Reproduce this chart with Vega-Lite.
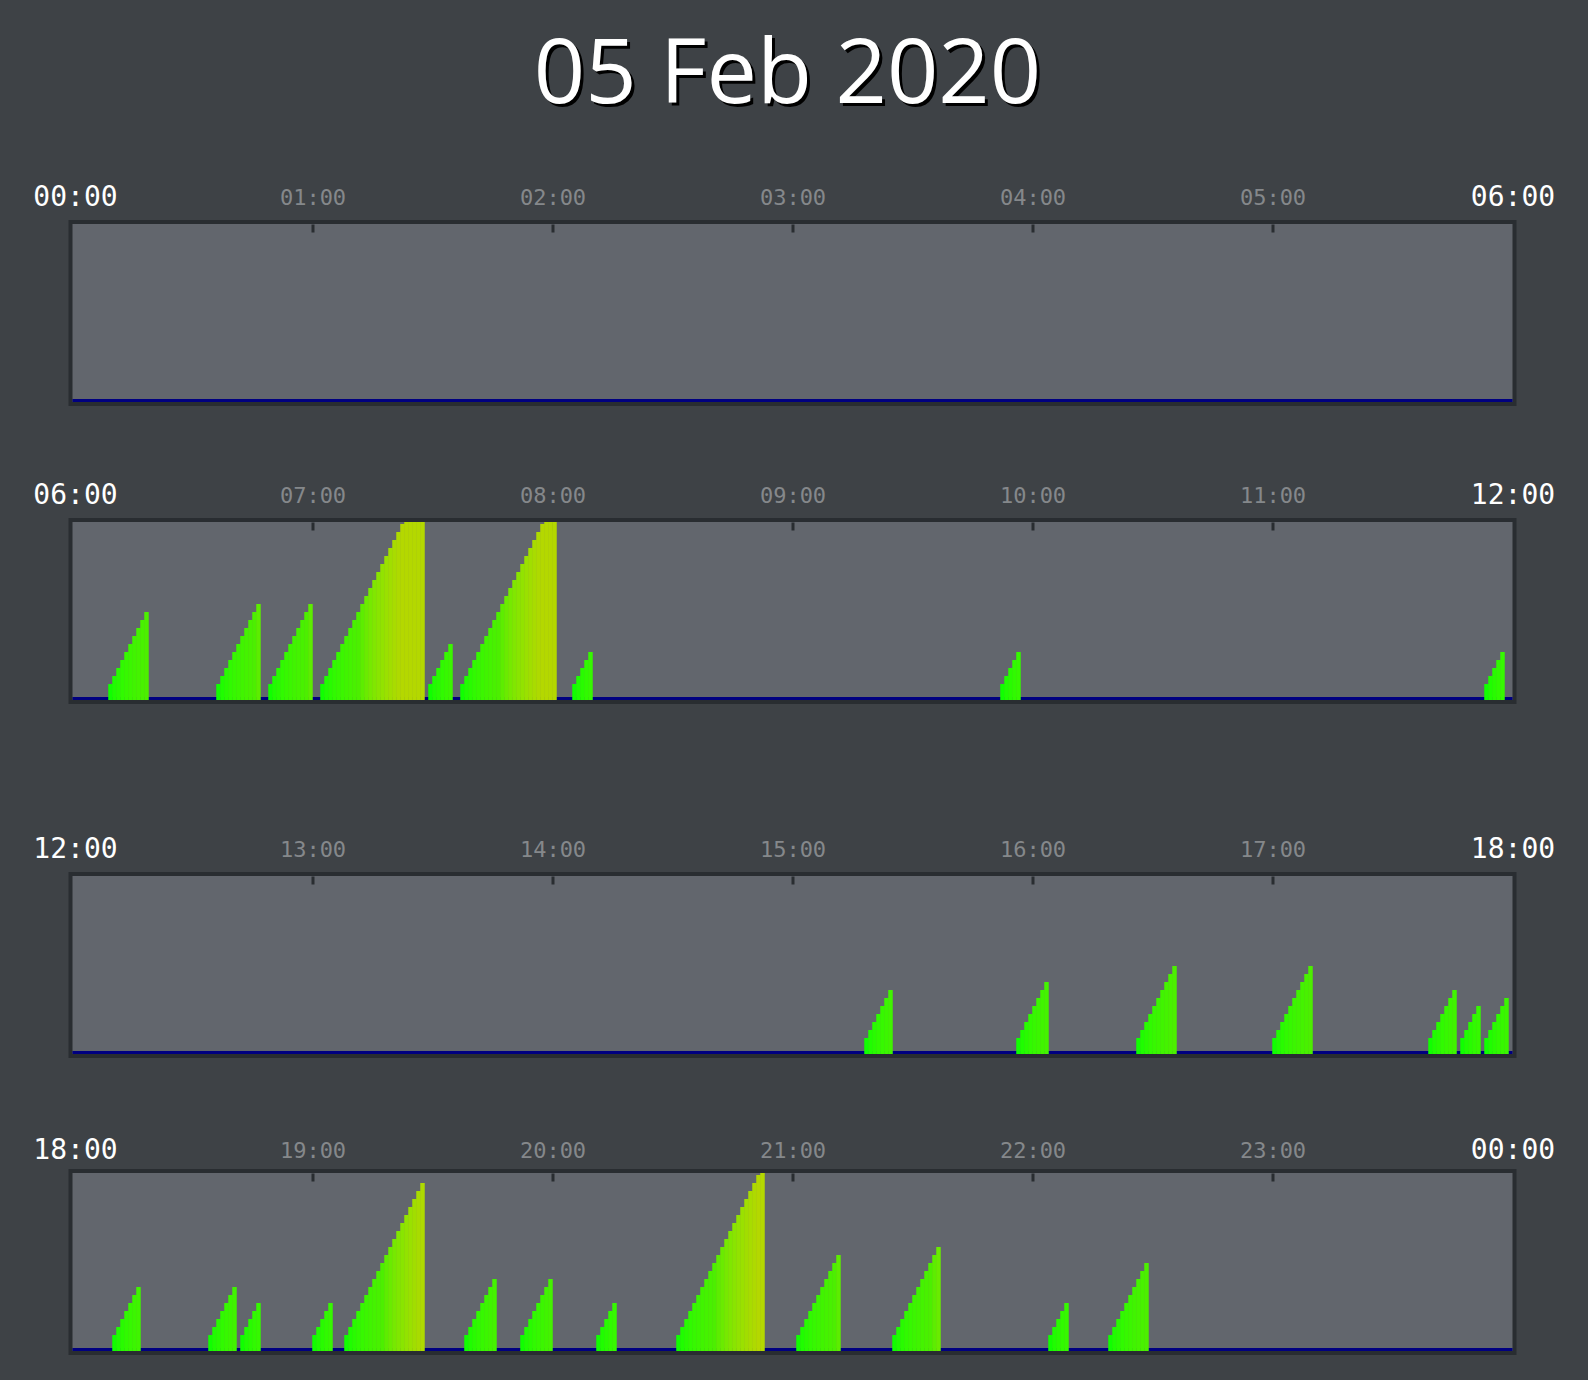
{
  "$schema": "https://vega.github.io/schema/vega-lite/v6.json",
  "background": "#3e4246",
  "padding": {"left": 30.5, "right": 33.5, "top": 0, "bottom": 27},
  "spacing": 129,
  "config": {
    "view": {"fill": "#62666d", "stroke": "#292d31", "strokeWidth": 4}
  },
  "datasets": {
    "bars": [
      {"t":369,"v":2},{"t":370,"v":3},{"t":371,"v":4},{"t":372,"v":5},{"t":373,"v":6},{"t":374,"v":7},{"t":375,"v":8},{"t":376,"v":9},{"t":377,"v":10},{"t":378,"v":11},
      {"t":396,"v":2},{"t":397,"v":3},{"t":398,"v":4},{"t":399,"v":5},{"t":400,"v":6},{"t":401,"v":7},{"t":402,"v":8},{"t":403,"v":9},{"t":404,"v":10},{"t":405,"v":11},{"t":406,"v":12},
      {"t":409,"v":2},{"t":410,"v":3},{"t":411,"v":4},{"t":412,"v":5},{"t":413,"v":6},{"t":414,"v":7},{"t":415,"v":8},{"t":416,"v":9},{"t":417,"v":10},{"t":418,"v":11},{"t":419,"v":12},
      {"t":422,"v":2},{"t":423,"v":3},{"t":424,"v":4},{"t":425,"v":5},{"t":426,"v":6},{"t":427,"v":7},{"t":428,"v":8},{"t":429,"v":9},{"t":430,"v":10},{"t":431,"v":11},{"t":432,"v":12},{"t":433,"v":13},{"t":434,"v":14},{"t":435,"v":15},{"t":436,"v":16},{"t":437,"v":17},{"t":438,"v":18},{"t":439,"v":19},{"t":440,"v":20},{"t":441,"v":21},{"t":442,"v":22},{"t":443,"v":23},{"t":444,"v":24},{"t":445,"v":25},{"t":446,"v":26},{"t":447,"v":27},
      {"t":449,"v":2},{"t":450,"v":3},{"t":451,"v":4},{"t":452,"v":5},{"t":453,"v":6},{"t":454,"v":7},
      {"t":457,"v":2},{"t":458,"v":3},{"t":459,"v":4},{"t":460,"v":5},{"t":461,"v":6},{"t":462,"v":7},{"t":463,"v":8},{"t":464,"v":9},{"t":465,"v":10},{"t":466,"v":11},{"t":467,"v":12},{"t":468,"v":13},{"t":469,"v":14},{"t":470,"v":15},{"t":471,"v":16},{"t":472,"v":17},{"t":473,"v":18},{"t":474,"v":19},{"t":475,"v":20},{"t":476,"v":21},{"t":477,"v":22},{"t":478,"v":23},{"t":479,"v":24},{"t":480,"v":25},
      {"t":485,"v":2},{"t":486,"v":3},{"t":487,"v":4},{"t":488,"v":5},{"t":489,"v":6},
      {"t":592,"v":2},{"t":593,"v":3},{"t":594,"v":4},{"t":595,"v":5},{"t":596,"v":6},
      {"t":713,"v":2},{"t":714,"v":3},{"t":715,"v":4},{"t":716,"v":5},{"t":717,"v":6},
      {"t":918,"v":2},{"t":919,"v":3},{"t":920,"v":4},{"t":921,"v":5},{"t":922,"v":6},{"t":923,"v":7},{"t":924,"v":8},
      {"t":956,"v":2},{"t":957,"v":3},{"t":958,"v":4},{"t":959,"v":5},{"t":960,"v":6},{"t":961,"v":7},{"t":962,"v":8},{"t":963,"v":9},
      {"t":986,"v":2},{"t":987,"v":3},{"t":988,"v":4},{"t":989,"v":5},{"t":990,"v":6},{"t":991,"v":7},{"t":992,"v":8},{"t":993,"v":9},{"t":994,"v":10},{"t":995,"v":11},
      {"t":1020,"v":2},{"t":1021,"v":3},{"t":1022,"v":4},{"t":1023,"v":5},{"t":1024,"v":6},{"t":1025,"v":7},{"t":1026,"v":8},{"t":1027,"v":9},{"t":1028,"v":10},{"t":1029,"v":11},
      {"t":1059,"v":2},{"t":1060,"v":3},{"t":1061,"v":4},{"t":1062,"v":5},{"t":1063,"v":6},{"t":1064,"v":7},{"t":1065,"v":8},
      {"t":1067,"v":2},{"t":1068,"v":3},{"t":1069,"v":4},{"t":1070,"v":5},{"t":1071,"v":6},
      {"t":1073,"v":2},{"t":1074,"v":3},{"t":1075,"v":4},{"t":1076,"v":5},{"t":1077,"v":6},{"t":1078,"v":7},
      {"t":1090,"v":2},{"t":1091,"v":3},{"t":1092,"v":4},{"t":1093,"v":5},{"t":1094,"v":6},{"t":1095,"v":7},{"t":1096,"v":8},
      {"t":1114,"v":2},{"t":1115,"v":3},{"t":1116,"v":4},{"t":1117,"v":5},{"t":1118,"v":6},{"t":1119,"v":7},{"t":1120,"v":8},
      {"t":1122,"v":2},{"t":1123,"v":3},{"t":1124,"v":4},{"t":1125,"v":5},{"t":1126,"v":6},
      {"t":1140,"v":2},{"t":1141,"v":3},{"t":1142,"v":4},{"t":1143,"v":5},{"t":1144,"v":6},
      {"t":1148,"v":2},{"t":1149,"v":3},{"t":1150,"v":4},{"t":1151,"v":5},{"t":1152,"v":6},{"t":1153,"v":7},{"t":1154,"v":8},{"t":1155,"v":9},{"t":1156,"v":10},{"t":1157,"v":11},{"t":1158,"v":12},{"t":1159,"v":13},{"t":1160,"v":14},{"t":1161,"v":15},{"t":1162,"v":16},{"t":1163,"v":17},{"t":1164,"v":18},{"t":1165,"v":19},{"t":1166,"v":20},{"t":1167,"v":21},
      {"t":1178,"v":2},{"t":1179,"v":3},{"t":1180,"v":4},{"t":1181,"v":5},{"t":1182,"v":6},{"t":1183,"v":7},{"t":1184,"v":8},{"t":1185,"v":9},
      {"t":1192,"v":2},{"t":1193,"v":3},{"t":1194,"v":4},{"t":1195,"v":5},{"t":1196,"v":6},{"t":1197,"v":7},{"t":1198,"v":8},{"t":1199,"v":9},
      {"t":1211,"v":2},{"t":1212,"v":3},{"t":1213,"v":4},{"t":1214,"v":5},{"t":1215,"v":6},
      {"t":1231,"v":2},{"t":1232,"v":3},{"t":1233,"v":4},{"t":1234,"v":5},{"t":1235,"v":6},{"t":1236,"v":7},{"t":1237,"v":8},{"t":1238,"v":9},{"t":1239,"v":10},{"t":1240,"v":11},{"t":1241,"v":12},{"t":1242,"v":13},{"t":1243,"v":14},{"t":1244,"v":15},{"t":1245,"v":16},{"t":1246,"v":17},{"t":1247,"v":18},{"t":1248,"v":19},{"t":1249,"v":20},{"t":1250,"v":21},{"t":1251,"v":22},{"t":1252,"v":23},
      {"t":1261,"v":2},{"t":1262,"v":3},{"t":1263,"v":4},{"t":1264,"v":5},{"t":1265,"v":6},{"t":1266,"v":7},{"t":1267,"v":8},{"t":1268,"v":9},{"t":1269,"v":10},{"t":1270,"v":11},{"t":1271,"v":12},
      {"t":1285,"v":2},{"t":1286,"v":3},{"t":1287,"v":4},{"t":1288,"v":5},{"t":1289,"v":6},{"t":1290,"v":7},{"t":1291,"v":8},{"t":1292,"v":9},{"t":1293,"v":10},{"t":1294,"v":11},{"t":1295,"v":12},{"t":1296,"v":13},
      {"t":1324,"v":2},{"t":1325,"v":3},{"t":1326,"v":4},{"t":1327,"v":5},{"t":1328,"v":6},
      {"t":1339,"v":2},{"t":1340,"v":3},{"t":1341,"v":4},{"t":1342,"v":5},{"t":1343,"v":6},{"t":1344,"v":7},{"t":1345,"v":8},{"t":1346,"v":9},{"t":1347,"v":10},{"t":1348,"v":11}
    ]
  },
  "vconcat": [
    {
      "bounds": "flush",
      "spacing": 116,
      "vconcat": [
        {
          "width": 1444,
          "height": 106,
          "view": {"fill": null, "stroke": null},
          "data": {"values": [{"label": "05 Feb 2020"}]},
          "layer": [
            {
              "mark": {"type": "text", "font": "Open Sans", "fontSize": 90, "color": "#000000", "align": "center", "baseline": "alphabetic", "dx": -2, "dy": 53},
              "encoding": {"text": {"field": "label", "type": "nominal"}}
            },
            {
              "mark": {"type": "text", "font": "Open Sans", "fontSize": 90, "color": "#ffffff", "align": "center", "baseline": "alphabetic", "dx": -5, "dy": 50},
              "encoding": {"text": {"field": "label", "type": "nominal"}}
            }
          ]
        },
        {
          "width": 1444,
          "height": 182,
          "layer": [
            {
              "data": {"values": [{}]},
              "mark": {"type": "rule", "color": "#000080", "strokeWidth": 3, "yOffset": -1.5},
              "encoding": {
                "x": {"datum": 0, "type": "quantitative", "title": null},
                "x2": {"datum": 360},
                "y": {"datum": 0, "type": "quantitative", "axis": null}
              }
            },
            {
              "data": {"name": "bars"},
              "transform": [{"filter": "datum.t >= 0 && datum.t < 360"}],
              "mark": {"type": "bar", "orient": "vertical", "width": 4.5, "xOffset": 2},
              "encoding": {
                "x": {
                  "field": "t", "type": "quantitative", "title": null,
                  "scale": {"domain": [-0.5, 360.5], "nice": false, "zero": false, "padding": 0},
                  "axis": {
                    "orient": "top", "values": [0, 60, 120, 180, 240, 300, 360],
                    "domain": false, "grid": false, "offset": -10,
                    "tickSize": 8, "tickWidth": 3, "tickColor": "#292d31",
                    "tickOpacity": {"condition": {"test": "datum.value == 0 || datum.value == 360", "value": 0}, "value": 1},
                    "labelExpr": "(floor(datum.value/60)%24 < 10 ? '0' : '') + (floor(datum.value/60)%24) + ':00'",
                    "labelFont": "DejaVu Sans Mono",
                    "labelFontSize": {"condition": {"test": "datum.value == 0 || datum.value == 360", "value": 28}, "value": 22},
                    "labelColor": {"condition": {"test": "datum.value == 0 || datum.value == 360", "value": "#ffffff"}, "value": "#85888b"},
                    "labelOffset": {"condition": {"test": "datum.value == 0", "value": 2.5}, "value": 0},
                    "labelBaseline": "middle", "labelAlign": "center", "labelPadding": 27,
                    "labelFlush": false, "labelOverlap": false, "labelBound": false
                  }
                },
                "y": {
                  "field": "v", "type": "quantitative", "axis": null,
                  "scale": {"domain": [0, 22.25], "range": [180, 2], "clamp": true, "nice": false, "zero": false}
                },
                "color": {
                  "field": "v", "type": "quantitative", "legend": null,
                  "scale": {"domain": [2, 11, 22], "range": ["#10ff00", "#4cef00", "#b4d800"], "clamp": true}
                }
              }
            }
          ]
        },
        {
          "width": 1444,
          "height": 182,
          "layer": [
            {
              "data": {"values": [{}]},
              "mark": {"type": "rule", "color": "#000080", "strokeWidth": 3, "yOffset": -1.5},
              "encoding": {
                "x": {"datum": 360, "type": "quantitative", "title": null},
                "x2": {"datum": 720},
                "y": {"datum": 0, "type": "quantitative", "axis": null}
              }
            },
            {
              "data": {"name": "bars"},
              "transform": [{"filter": "datum.t >= 360 && datum.t < 720"}],
              "mark": {"type": "bar", "orient": "vertical", "width": 4.5, "xOffset": 2},
              "encoding": {
                "x": {
                  "field": "t", "type": "quantitative", "title": null,
                  "scale": {"domain": [359.5, 720.5], "nice": false, "zero": false, "padding": 0},
                  "axis": {
                    "orient": "top", "values": [360, 420, 480, 540, 600, 660, 720],
                    "domain": false, "grid": false, "offset": -10,
                    "tickSize": 8, "tickWidth": 3, "tickColor": "#292d31",
                    "tickOpacity": {"condition": {"test": "datum.value == 360 || datum.value == 720", "value": 0}, "value": 1},
                    "labelExpr": "(floor(datum.value/60)%24 < 10 ? '0' : '') + (floor(datum.value/60)%24) + ':00'",
                    "labelFont": "DejaVu Sans Mono",
                    "labelFontSize": {"condition": {"test": "datum.value == 360 || datum.value == 720", "value": 28}, "value": 22},
                    "labelColor": {"condition": {"test": "datum.value == 360 || datum.value == 720", "value": "#ffffff"}, "value": "#85888b"},
                    "labelOffset": {"condition": {"test": "datum.value == 360", "value": 2.5}, "value": 0},
                    "labelBaseline": "middle", "labelAlign": "center", "labelPadding": 27,
                    "labelFlush": false, "labelOverlap": false, "labelBound": false
                  }
                },
                "y": {
                  "field": "v", "type": "quantitative", "axis": null,
                  "scale": {"domain": [0, 22.25], "range": [180, 2], "clamp": true, "nice": false, "zero": false}
                },
                "color": {
                  "field": "v", "type": "quantitative", "legend": null,
                  "scale": {"domain": [2, 11, 22], "range": ["#10ff00", "#4cef00", "#b4d800"], "clamp": true}
                }
              }
            }
          ]
        }
      ]
    },
    {
      "bounds": "flush",
      "spacing": 115,
      "vconcat": [
        {
          "width": 1444,
          "height": 182,
          "layer": [
            {
              "data": {"values": [{}]},
              "mark": {"type": "rule", "color": "#000080", "strokeWidth": 3, "yOffset": -1.5},
              "encoding": {
                "x": {"datum": 720, "type": "quantitative", "title": null},
                "x2": {"datum": 1080},
                "y": {"datum": 0, "type": "quantitative", "axis": null}
              }
            },
            {
              "data": {"name": "bars"},
              "transform": [{"filter": "datum.t >= 720 && datum.t < 1080"}],
              "mark": {"type": "bar", "orient": "vertical", "width": 4.5, "xOffset": 2},
              "encoding": {
                "x": {
                  "field": "t", "type": "quantitative", "title": null,
                  "scale": {"domain": [719.5, 1080.5], "nice": false, "zero": false, "padding": 0},
                  "axis": {
                    "orient": "top", "values": [720, 780, 840, 900, 960, 1020, 1080],
                    "domain": false, "grid": false, "offset": -10,
                    "tickSize": 8, "tickWidth": 3, "tickColor": "#292d31",
                    "tickOpacity": {"condition": {"test": "datum.value == 720 || datum.value == 1080", "value": 0}, "value": 1},
                    "labelExpr": "(floor(datum.value/60)%24 < 10 ? '0' : '') + (floor(datum.value/60)%24) + ':00'",
                    "labelFont": "DejaVu Sans Mono",
                    "labelFontSize": {"condition": {"test": "datum.value == 720 || datum.value == 1080", "value": 28}, "value": 22},
                    "labelColor": {"condition": {"test": "datum.value == 720 || datum.value == 1080", "value": "#ffffff"}, "value": "#85888b"},
                    "labelOffset": {"condition": {"test": "datum.value == 720", "value": 2.5}, "value": 0},
                    "labelBaseline": "middle", "labelAlign": "center", "labelPadding": 27,
                    "labelFlush": false, "labelOverlap": false, "labelBound": false
                  }
                },
                "y": {
                  "field": "v", "type": "quantitative", "axis": null,
                  "scale": {"domain": [0, 22.25], "range": [180, 2], "clamp": true, "nice": false, "zero": false}
                },
                "color": {
                  "field": "v", "type": "quantitative", "legend": null,
                  "scale": {"domain": [2, 11, 22], "range": ["#10ff00", "#4cef00", "#b4d800"], "clamp": true}
                }
              }
            }
          ]
        },
        {
          "width": 1444,
          "height": 182,
          "layer": [
            {
              "data": {"values": [{}]},
              "mark": {"type": "rule", "color": "#000080", "strokeWidth": 3, "yOffset": -1.5},
              "encoding": {
                "x": {"datum": 1080, "type": "quantitative", "title": null},
                "x2": {"datum": 1440},
                "y": {"datum": 0, "type": "quantitative", "axis": null}
              }
            },
            {
              "data": {"name": "bars"},
              "transform": [{"filter": "datum.t >= 1080 && datum.t < 1440"}],
              "mark": {"type": "bar", "orient": "vertical", "width": 4.5, "xOffset": 2},
              "encoding": {
                "x": {
                  "field": "t", "type": "quantitative", "title": null,
                  "scale": {"domain": [1079.5, 1440.5], "nice": false, "zero": false, "padding": 0},
                  "axis": {
                    "orient": "top", "values": [1080, 1140, 1200, 1260, 1320, 1380, 1440],
                    "domain": false, "grid": false, "offset": -10,
                    "tickSize": 8, "tickWidth": 3, "tickColor": "#292d31",
                    "tickOpacity": {"condition": {"test": "datum.value == 1080 || datum.value == 1440", "value": 0}, "value": 1},
                    "labelExpr": "(floor(datum.value/60)%24 < 10 ? '0' : '') + (floor(datum.value/60)%24) + ':00'",
                    "labelFont": "DejaVu Sans Mono",
                    "labelFontSize": {"condition": {"test": "datum.value == 1080 || datum.value == 1440", "value": 28}, "value": 22},
                    "labelColor": {"condition": {"test": "datum.value == 1080 || datum.value == 1440", "value": "#ffffff"}, "value": "#85888b"},
                    "labelOffset": {"condition": {"test": "datum.value == 1080", "value": 2.5}, "value": 0},
                    "labelBaseline": "middle", "labelAlign": "center", "labelPadding": 22.5,
                    "labelFlush": false, "labelOverlap": false, "labelBound": false
                  }
                },
                "y": {
                  "field": "v", "type": "quantitative", "axis": null,
                  "scale": {"domain": [0, 22.25], "range": [180, 2], "clamp": true, "nice": false, "zero": false}
                },
                "color": {
                  "field": "v", "type": "quantitative", "legend": null,
                  "scale": {"domain": [2, 11, 22], "range": ["#10ff00", "#4cef00", "#b4d800"], "clamp": true}
                }
              }
            }
          ]
        }
      ]
    }
  ]
}
